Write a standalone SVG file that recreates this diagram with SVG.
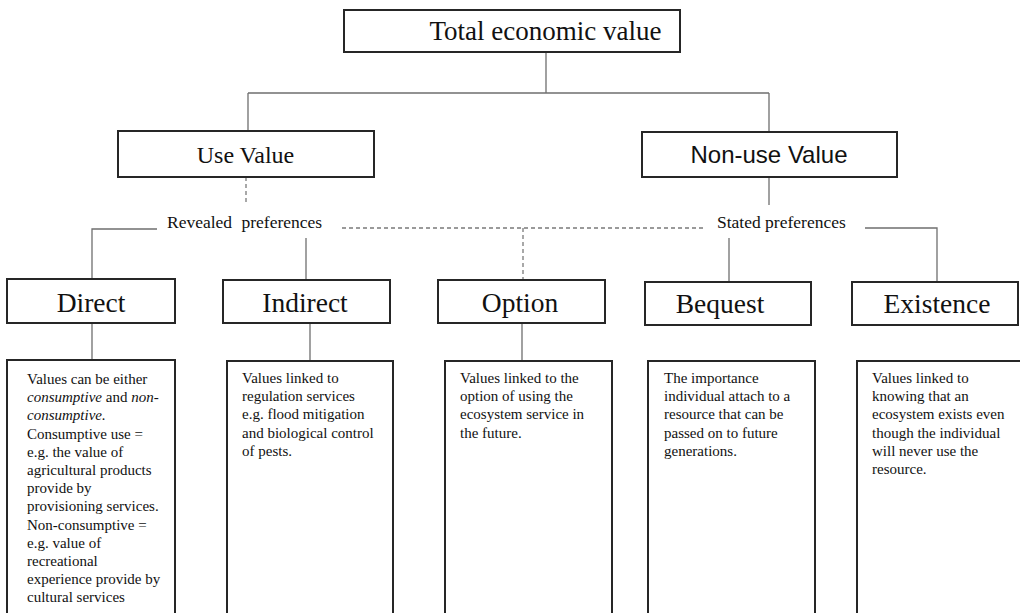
<svg xmlns="http://www.w3.org/2000/svg" width="1020" height="613" viewBox="0 0 1020 613">
  <style>
    .box { fill: #ffffff; stroke: #262626; stroke-width: 2; }
    .link { fill: none; stroke: #6f6f6f; stroke-width: 1.3; }
    .dash { fill: none; stroke: #7a7a7a; stroke-width: 1.3; stroke-dasharray: 4 3; }
    text { fill: #111; }
    .title { font-size: 27px; text-anchor: middle; }
    .head { font-size: 24px; text-anchor: middle; }
    .cat { font-size: 27.5px; text-anchor: middle; }
    .pref { font-size: 17.5px; }
    .desc { font-size: 15px; }
  </style>

  <rect width="1020" height="613" fill="#ffffff"/>

  <!-- connectors -->
  <g id="connectors">
    <path class="link" d="M546,52 V93 M248,93 H769 M248,93 V131 M769,93 V132"/>
    <path class="dash" d="M246,177 V205"/>
    <path class="link" d="M769,177 V205"/>
    <path class="link" d="M157,229 H92 V279"/>
    <path class="link" d="M306,238 V280"/>
    <path class="dash" d="M342,228 H703"/>
    <path class="dash" d="M523,228 V280"/>
    <path class="link" d="M729,238 V282"/>
    <path class="link" d="M865,228 H937 V282"/>
    <path class="link" d="M92,323 V360 M310,323 V361 M522,323 V361"/>
  </g>

  <g font-family="'Liberation Serif', 'Times New Roman', Times, serif">
  <g id="total">
    <rect class="box" x="344" y="10" width="336" height="42"/>
    <text class="title" x="545.5" y="40">Total economic value</text>
  </g>

  <g id="use-value">
    <rect class="box" x="118" y="131" width="256" height="46"/>
    <text class="head" x="245.5" y="163">Use Value</text>
  </g>

  <g id="non-use-value">
    <rect class="box" x="642" y="132" width="255" height="45"/>
    <text class="head" x="769" y="163" font-family="'Liberation Sans', Arial, sans-serif">Non-use Value</text>
  </g>

  <g id="revealed-preferences">
    <text class="pref" x="167" y="228" word-spacing="5">Revealed preferences</text>
  </g>

  <g id="stated-preferences">
    <text class="pref" x="717" y="228">Stated preferences</text>
  </g>

  <g id="direct">
    <rect class="box" x="7" y="279" width="168" height="44"/>
    <text class="cat" x="91" y="312">Direct</text>
  </g>

  <g id="indirect">
    <rect class="box" x="223" y="280" width="167" height="43"/>
    <text class="cat" x="305" y="312">Indirect</text>
  </g>

  <g id="option">
    <rect class="box" x="438" y="280" width="167" height="43"/>
    <text class="cat" x="520" y="312">Option</text>
  </g>

  <g id="bequest">
    <rect class="box" x="645" y="282" width="166" height="43"/>
    <text class="cat" x="720" y="313">Bequest</text>
  </g>

  <g id="existence">
    <rect class="box" x="852" y="282" width="166" height="43"/>
    <text class="cat" x="937" y="313">Existence</text>
  </g>

  <g id="direct-desc">
    <rect class="box" x="7" y="360" width="168" height="260"/>
    <text class="desc" x="27" y="384">
      <tspan x="27" dy="0">Values can be either</tspan>
      <tspan x="27" dy="18.2"><tspan font-style="italic">consumptive</tspan> and <tspan font-style="italic">non-</tspan></tspan>
      <tspan x="27" dy="18.2" font-style="italic">consumptive.</tspan>
      <tspan x="27" dy="18.2">Consumptive use =</tspan>
      <tspan x="27" dy="18.2">e.g. the value of</tspan>
      <tspan x="27" dy="18.2">agricultural products</tspan>
      <tspan x="27" dy="18.2">provide by</tspan>
      <tspan x="27" dy="18.2">provisioning services.</tspan>
      <tspan x="27" dy="18.2">Non-consumptive =</tspan>
      <tspan x="27" dy="18.2">e.g. value of</tspan>
      <tspan x="27" dy="18.2">recreational</tspan>
      <tspan x="27" dy="18.2">experience provide by</tspan>
      <tspan x="27" dy="18.2">cultural services</tspan>
    </text>
  </g>

  <g id="indirect-desc">
    <rect class="box" x="227" y="361" width="166" height="260"/>
    <text class="desc" x="242" y="383">
      <tspan x="242" dy="0">Values linked to</tspan>
      <tspan x="242" dy="18.2">regulation services</tspan>
      <tspan x="242" dy="18.2">e.g. flood mitigation</tspan>
      <tspan x="242" dy="18.2">and biological control</tspan>
      <tspan x="242" dy="18.2">of pests.</tspan>
    </text>
  </g>

  <g id="option-desc">
    <rect class="box" x="445" y="361" width="167" height="260"/>
    <text class="desc" x="460" y="383">
      <tspan x="460" dy="0">Values linked to the</tspan>
      <tspan x="460" dy="18.2">option of using the</tspan>
      <tspan x="460" dy="18.2">ecosystem service in</tspan>
      <tspan x="460" dy="18.2">the future.</tspan>
    </text>
  </g>

  <g id="bequest-desc">
    <rect class="box" x="648" y="361" width="167" height="260"/>
    <text class="desc" x="664" y="383">
      <tspan x="664" dy="0">The importance</tspan>
      <tspan x="664" dy="18.2">individual attach to a</tspan>
      <tspan x="664" dy="18.2">resource that can be</tspan>
      <tspan x="664" dy="18.2">passed on to future</tspan>
      <tspan x="664" dy="18.2">generations.</tspan>
    </text>
  </g>

  <g id="existence-desc">
    <rect class="box" x="857" y="361" width="167" height="260"/>
    <text class="desc" x="872" y="383">
      <tspan x="872" dy="0">Values linked to</tspan>
      <tspan x="872" dy="18.2">knowing that an</tspan>
      <tspan x="872" dy="18.2">ecosystem exists even</tspan>
      <tspan x="872" dy="18.2">though the individual</tspan>
      <tspan x="872" dy="18.2">will never use the</tspan>
      <tspan x="872" dy="18.2">resource.</tspan>
    </text>
  </g>
  </g>
</svg>
